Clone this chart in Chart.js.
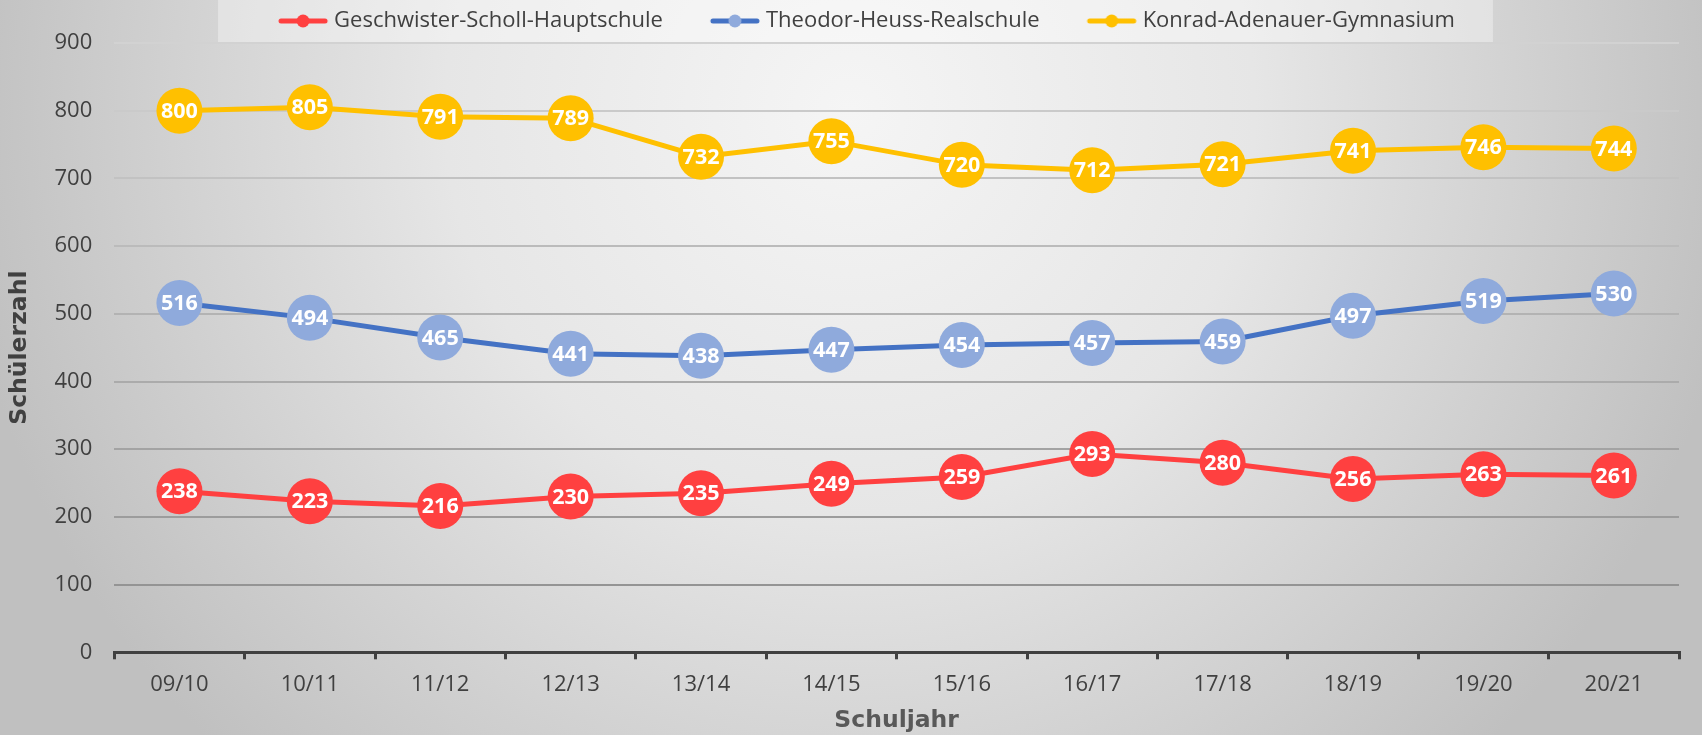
<!DOCTYPE html>
<html><head><meta charset="utf-8">
<script src="https://cdn.jsdelivr.net/npm/chart.js@4.4.1/dist/chart.umd.min.js"></script>
<style>html,body{margin:0;padding:0;overflow:hidden;background:#dcdcdc}</style>
</head><body>
<canvas id="c" width="1702" height="735" style="display:block;width:1702px;height:735px"></canvas>
<script>
const categories = ['09/10','10/11','11/12','12/13','13/14','14/15','15/16','16/17','17/18','18/19','19/20','20/21'];
const seriesNames = ['Geschwister-Scholl-Hauptschule','Theodor-Heuss-Realschule','Konrad-Adenauer-Gymnasium'];
const hauptschule = [238,223,216,230,235,249,259,293,280,256,263,261];
const realschule  = [516,494,465,441,438,447,454,457,459,497,519,530];
const gymnasium   = [800,805,791,789,732,755,720,712,721,741,746,744];
const yMin = 0, yMax = 900, yStep = 100;
const xTitle = 'Schuljahr';
const yTitle = 'Schülerzahl';

const lineColors  = ['#FF4040','#4472C4','#FFC000'];
const pointColors = ['#FF4040','#8FAADC','#FFC000'];

function legendMarker(lineCol, dotCol){
  const c = document.createElement('canvas');
  c.width = 94; c.height = 20;
  const x = c.getContext('2d');
  x.strokeStyle = lineCol; x.lineWidth = 5; x.lineCap = 'round';
  x.beginPath(); x.moveTo(46, 10); x.lineTo(90, 10); x.stroke();
  x.fillStyle = dotCol; x.beginPath(); x.arc(68, 10, 6.5, 0, Math.PI*2); x.fill();
  return c;
}
const markers = lineColors.map((c,i)=>legendMarker(c, pointColors[i]));

const bgPlugin = {
  id:'bg',
  beforeDraw(chart){
    const {ctx, width, height} = chart;
    ctx.save();
    const g = ctx.createRadialGradient(850, 110, 0, 850, 110, 900);
    g.addColorStop(0, '#f5f5f5');
    g.addColorStop(0.45, '#e6e6e6');
    g.addColorStop(1, '#c0c0c0');
    ctx.fillStyle = g;
    ctx.fillRect(0, 0, width, height);
    const hb = chart.legend && chart.legend.legendHitBoxes;
    if (hb && hb.length){
      const l = hb[0].left + 37 - 60;
      const last = hb[hb.length-1];
      const r = last.left + last.width + 38;
      ctx.fillStyle = 'rgba(255,255,255,0.35)';
      ctx.fillRect(l, 0, r - l, 42);
    }
    ctx.restore();
  }
};

const legendFit = {
  id:'legendFit',
  afterInit(chart){
    const lg = chart.legend;
    if (!lg) return;
    const f = lg.fit;
    lg.fit = function(){ f.call(this); this.height = 43; };
  }
};

const labelPlugin = {
  id:'valueLabels',
  afterDatasetsDraw(chart){
    const ctx = chart.ctx;
    ctx.save();
    ctx.font = 'bold 21.5px "Open Sans"';
    ctx.fillStyle = '#ffffff';
    ctx.textAlign = 'center';
    ctx.textBaseline = 'middle';
    chart.data.datasets.forEach((ds, i) => {
      const meta = chart.getDatasetMeta(i);
      meta.data.forEach((pt, j) => {
        ctx.fillText(String(ds.data[j]), pt.x, pt.y + 1);
      });
    });
    ctx.restore();
  }
};

const seriesData = [hauptschule, realschule, gymnasium];
const datasets = seriesData.map((d, i) => ({
  label: seriesNames[i],
  data: d,
  borderColor: lineColors[i],
  backgroundColor: pointColors[i],
  borderWidth: 5,
  tension: 0,
  pointRadius: 23,
  pointHoverRadius: 23,
  pointBackgroundColor: pointColors[i],
  pointBorderWidth: 0,
  pointBorderColor: pointColors[i],
  clip: false
}));

new Chart(document.getElementById('c'), {
  type: 'line',
  data: { labels: categories, datasets },
  plugins: [bgPlugin, legendFit, labelPlugin],
  options: {
    responsive: false,
    animation: false,
    events: [],
    layout: { padding: { left: 0, right: 6, top: 0, bottom: 0 } },
    plugins: {
      tooltip: { enabled: false },
      legend: {
        position: 'top',
        labels: {
          usePointStyle: true,
          pointStyleWidth: 82,
          padding: 10,
          color: '#404040',
          font: { family: '"Open Sans"', size: 22 },
          generateLabels(chart){
            const items = Chart.defaults.plugins.legend.labels.generateLabels(chart);
            items.forEach((it, i) => { it.pointStyle = markers[i]; it.lineWidth = 0; });
            return items;
          }
        }
      }
    },
    scales: {
      x: {
        offset: true,
        border: { display: true, color: '#404040', width: 3 },
        grid: { display: true, drawOnChartArea: false, drawTicks: true, tickLength: 7, color: '#404040', lineWidth: 3, offset: true },
        ticks: { color: '#404040', padding: 13, font: { family: '"Open Sans"', size: 22, lineHeight: 1.1 }, maxRotation: 0 },
        title: { display: true, text: xTitle, color: '#595959', font: { family: '"DejaVu Sans"', size: 23.5, weight: 'bold', lineHeight: 1 }, padding: { top: 0, bottom: 2 } }
      },
      y: {
        min: yMin, max: yMax,
        border: { display: false },
        grid: {
          drawTicks: false,
          lineWidth: 2,
          color: ctx => {
            const v = ctx.tick ? ctx.tick.value : 0;
            const t = v / yMax;
            const g = Math.round(0x8c + (0xd2 - 0x8c) * t);
            return 'rgb(' + g + ',' + g + ',' + g + ')';
          }
        },
        ticks: { stepSize: yStep, color: '#404040', padding: 22, font: { family: '"Open Sans"', size: 22 } },
        title: { display: true, text: yTitle, color: '#404040', font: { family: '"DejaVu Sans"', size: 23.5, weight: 'bold', lineHeight: 1 }, padding: { top: 8, bottom: 1 } }
      }
    }
  }
});
</script>
</body></html>
